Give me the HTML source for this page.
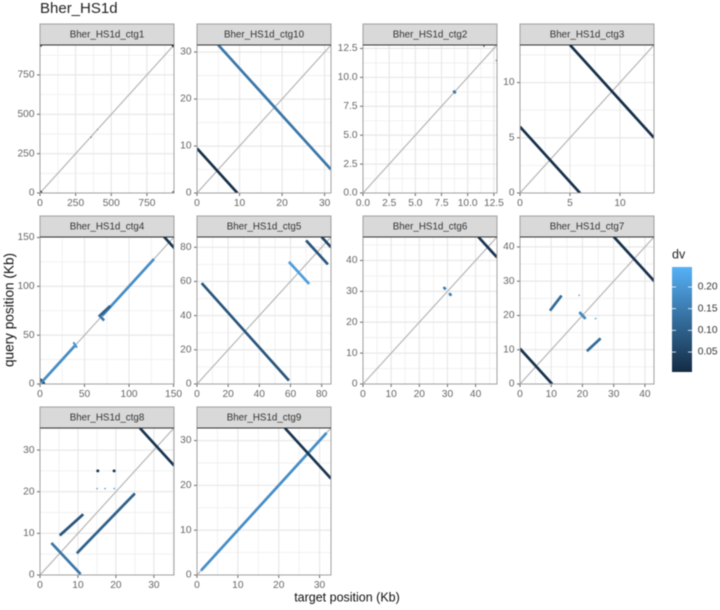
<!DOCTYPE html>
<html>
<head>
<meta charset="utf-8">
<style>
html,body{margin:0;padding:0;background:#fff;width:720px;height:610px;overflow:hidden}
svg{display:block;filter:blur(0.5px)}
text{font-family:"Liberation Sans",sans-serif}
</style>
</head>
<body>
<svg id="chart" xmlns="http://www.w3.org/2000/svg" width="720" height="610" viewBox="0 0 720 610">
  <rect width="720" height="610" fill="#ffffff"/>
  <text x="40" y="9" font-size="15" fill="#222" dominant-baseline="middle">Bher_HS1d</text>
  <text transform="translate(10,310) rotate(-90)" font-size="13.6" fill="#111" text-anchor="middle" dominant-baseline="middle">query position (Kb)</text>
  <text x="347" y="598" font-size="12.5" fill="#111" text-anchor="middle" dominant-baseline="middle">target position (Kb)</text>
  <g id="panels"></g>
  <g id="legend"></g>
</svg>
<script>
const contigs = ["Bher_HS1d_ctg1","Bher_HS1d_ctg10","Bher_HS1d_ctg2","Bher_HS1d_ctg3","Bher_HS1d_ctg4","Bher_HS1d_ctg5","Bher_HS1d_ctg6","Bher_HS1d_ctg7","Bher_HS1d_ctg8","Bher_HS1d_ctg9"];
const axisLimits = [940,31.5,12.8,13.4,150.5,86,47.6,42.9,35.3,32.8];
const ticksCtg1 = ["0","250","500","750"];
const ticksCtg10 = ["0","10","20","30"];
const ticksCtg2 = ["0.0","2.5","5.0","7.5","10.0","12.5"];
const ticksCtg3 = ["0","5","10"];
const ticksCtg4 = ["0","50","100","150"];
const ticksCtg5 = ["0","20","40","60","80"];
const ticksCtg6 = ["0","10","20","30","40"];
const ticksCtg7 = ["0","10","20","30","40"];
const ticksCtg8 = ["0","10","20","30"];
const ticksCtg9 = ["0","10","20","30"];
const tickSets = [ticksCtg1,ticksCtg10,ticksCtg2,ticksCtg3,ticksCtg4,ticksCtg5,ticksCtg6,ticksCtg7,ticksCtg8,ticksCtg9];

/* each alignment: target start, query start, target end, query end, dv */
const alignCtg1 = [[0,0,5,5,0.01],[0,935,5,940,0.01],[935,0,940,5,0.01],[935,935,940,940,0.01],[355,358,362,351,0.17],[400,405,406,399,0.2]];
const alignCtg10 = [[5,31.5,31.5,5,0.14],[0,9.5,9.5,0,0.012]];
const alignCtg2 = [[8.71,8.77,8.77,8.71,0.14],[11.5,12.75,11.6,12.65,0.05],[12.7,11.5,12.8,11.4,0.05]];
const alignCtg3 = [[5,13.4,13.4,5,0.012],[0,6,6,0,0.012]];
const alignCtg4 = [[2,2,40,40,0.18],[38,42,41,38,0.2],[70,70,128,128,0.18],[66,69,79,80,0.1],[67,70,72,65,0.14],[139,151,151,139,0.02],[0,5,5,0,0.03],[2,2,5,5,0.18]];
const alignCtg5 = [[3,59,59,2,0.08],[59,71.5,72,58.5,0.21],[70,84,84,70,0.08],[80,86,86,80,0.05]];
const alignCtg6 = [[41,47.6,47.6,41,0.02],[28.9,31.1,29.1,30.9,0.16],[30.9,29.1,31.1,28.9,0.16]];
const alignCtg7 = [[30,43,43,30,0.015],[0,10.3,10.3,0,0.015],[9.6,21.4,13.3,25.8,0.12],[21.4,9.6,25.8,13.3,0.12],[19,21,21,19,0.17],[18.8,25.7,19.1,26.1,0.2],[24,18.9,24.4,19.3,0.2]];
const alignCtg8 = [[26.3,35.3,35.3,26.3,0.02],[5.2,9.5,11.4,14.6,0.08],[9.7,5.2,25,19.6,0.1],[3,7.7,10.7,0.2,0.14],[15.2,25,15.25,25,0.01],[19.5,25,19.55,25,0.01],[14.9,20.6,15.2,20.9,0.18],[17,20.6,17.3,20.9,0.18],[19.4,20.9,19.7,20.6,0.18]];
const alignCtg9 = [[1,1,31.7,31.7,0.18],[21.5,32.8,32.8,21.5,0.02]];
const alignSets = [alignCtg1,alignCtg10,alignCtg2,alignCtg3,alignCtg4,alignCtg5,alignCtg6,alignCtg7,alignCtg8,alignCtg9];

const legendBreaks = [0.05,0.10,0.15,0.20];
const legendLabels = ["0.05","0.10","0.15","0.20"];
const dvMin = 0.004;
const dvMax = 0.246;

const NS = "http://www.w3.org/2000/svg";
const colLeft = [40,197,363,520];
const stripTop = [24,216,407];
const panelTop = [45,237,428];
const panelBottom = [193,384,575];
const panelWidth = 134;

function mk(parent, tag, attrs, txt){
  const el = document.createElementNS(NS, tag);
  for (const k in attrs) el.setAttribute(k, attrs[k]);
  if (txt !== undefined) el.textContent = txt;
  parent.appendChild(el);
  return el;
}
function dvColor(v){
  const t = Math.max(0, Math.min(1, (v - dvMin) / (dvMax - dvMin)));
  const a = [19,43,67], b = [86,177,247];
  const c = a.map((q,i) => Math.round(q + (b[i]-q)*t));
  return "rgb(" + c.join(",") + ")";
}

const panels = document.getElementById("panels");
const defs = mk(panels, "defs", {});

contigs.forEach(function(name, i){
  const col = i % 4, row = Math.floor(i / 4);
  const x0 = colLeft[col], y0 = panelTop[row], y1 = panelBottom[row];
  const w = panelWidth, h = y1 - y0, lim = axisLimits[i];
  const sx = v => x0 + v / lim * w;
  const sy = v => y1 - v / lim * h;
  const ticks = tickSets[i].map(Number);
  const step = ticks[1] - ticks[0];
  const short = name.replace("Bher_HS1d_", "");

  const g = mk(panels, "g", {});
  
  

  const bg = mk(g, "rect", {x:x0, y:y0, width:w, height:h, fill:"#ffffff"});
  
  

  const clip = mk(defs, "clipPath", {id:"clip" + i});
  mk(clip, "rect", {x:x0, y:y0, width:w, height:h});

  for (let m = step / 2; m < lim; m += step) {
    const minorV = mk(g, "line", {x1:sx(m), x2:sx(m), y1:y0, y2:y1, stroke:"#eeeeee", "stroke-width":0.8});
    
    
    const minorH = mk(g, "line", {x1:x0, x2:x0+w, y1:sy(m), y2:sy(m), stroke:"#eeeeee", "stroke-width":0.8});
    
    
  }
  ticks.forEach(function(t, ti){
    const majorV = mk(g, "line", {x1:sx(t), x2:sx(t), y1:y0, y2:y1, stroke:"#e6e6e6", "stroke-width":1.1});
    
    
    const majorH = mk(g, "line", {x1:x0, x2:x0+w, y1:sy(t), y2:sy(t), stroke:"#e6e6e6", "stroke-width":1.1});
    
    

    const tickX = mk(g, "line", {x1:sx(t), x2:sx(t), y1:y1, y2:y1+3, stroke:"#666", "stroke-width":1});
    
    
    const tickY = mk(g, "line", {x1:x0-3, x2:x0, y1:sy(t), y2:sy(t), stroke:"#666", "stroke-width":1});
    
    

    const labelX = mk(g, "text", {x:sx(t), y:y1+10.5, "font-size":10.2, fill:"#666", "text-anchor":"middle", "dominant-baseline":"middle"}, tickSets[i][ti]);
    
    
    const labelY = mk(g, "text", {x:x0-5.5, y:sy(t), "font-size":10.2, fill:"#666", "text-anchor":"end", "dominant-baseline":"middle"}, tickSets[i][ti]);
    
    
  });

  const diag = mk(g, "line", {x1:sx(0), y1:sy(0), x2:sx(lim), y2:sy(lim), stroke:"#b0b0b0", "stroke-width":1.1});
  
  

  const marks = mk(g, "g", {"clip-path":"url(#clip" + i + ")"});
  
  
  alignSets[i].forEach(function(s){
    const px = Math.hypot(sx(s[2]) - sx(s[0]), sy(s[3]) - sy(s[1]));
    const isDot = px < 1.2;
    const isStreak = !isDot && px < 3;
    const isShort = !isDot && !isStreak && px < 5;
    const sw = isDot ? 2.8 : (isStreak ? 1.1 : (isShort ? 2.2 : 2.7));
    const seg = mk(marks, "line", {x1:sx(s[0]), y1:sy(s[1]), x2:sx(s[2]), y2:sy(s[3]), stroke:dvColor(s[4]), "stroke-width":sw, "stroke-linecap":(isDot || isShort) ? "round" : "butt"});
    
    
  });

  const border = mk(g, "rect", {x:x0, y:y0, width:w, height:h, fill:"none", stroke:"#a0a0a0", "stroke-width":1});
  
  

  const strip = mk(g, "rect", {x:x0, y:stripTop[row], width:w, height:y0-stripTop[row], fill:"#d9d9d9", stroke:"#a0a0a0", "stroke-width":1});
  
  

  const topLine = mk(g, "line", {x1:x0, x2:x0+w, y1:y0, y2:y0, stroke:"#333", "stroke-width":1});
  
  

  const stripText = mk(g, "text", {x:x0+w/2, y:(stripTop[row]+y0)/2+0.5, "font-size":9.8, fill:"#333", "text-anchor":"middle", "dominant-baseline":"middle"}, name);
  
  
});

/* legend */
const legend = document.getElementById("legend");
const barX = 672, barW = 20, barTop = 267, barBottom = 372;
const barY = v => barBottom - (v - dvMin) / (dvMax - dvMin) * (barBottom - barTop);

const legendTitle = mk(legend, "text", {x:barX, y:255, "font-size":12.5, fill:"#222", "dominant-baseline":"middle"}, "dv");



const lgDefs = mk(legend, "defs", {});
const grad = mk(lgDefs, "linearGradient", {id:"dvGradient", x1:0, y1:1, x2:0, y2:0});
mk(grad, "stop", {offset:"0%", "stop-color":dvColor(dvMin)});
mk(grad, "stop", {offset:"100%", "stop-color":dvColor(dvMax)});

const bar = mk(legend, "rect", {x:barX, y:barTop, width:barW, height:barBottom-barTop, fill:"url(#dvGradient)"});



legendBreaks.forEach(function(b, i){
  const yy = barY(b);
  const tl = mk(legend, "line", {x1:barX, x2:barX+4, y1:yy, y2:yy, stroke:"#fff", "stroke-width":0.8});
  
  
  const tr = mk(legend, "line", {x1:barX+barW-4, x2:barX+barW, y1:yy, y2:yy, stroke:"#fff", "stroke-width":0.8});
  
  
  const lab = mk(legend, "text", {x:697.7, y:yy, "font-size":10.2, fill:"#333", "dominant-baseline":"middle"}, legendLabels[i]);
  
  
});
</script>
</body>
</html>
